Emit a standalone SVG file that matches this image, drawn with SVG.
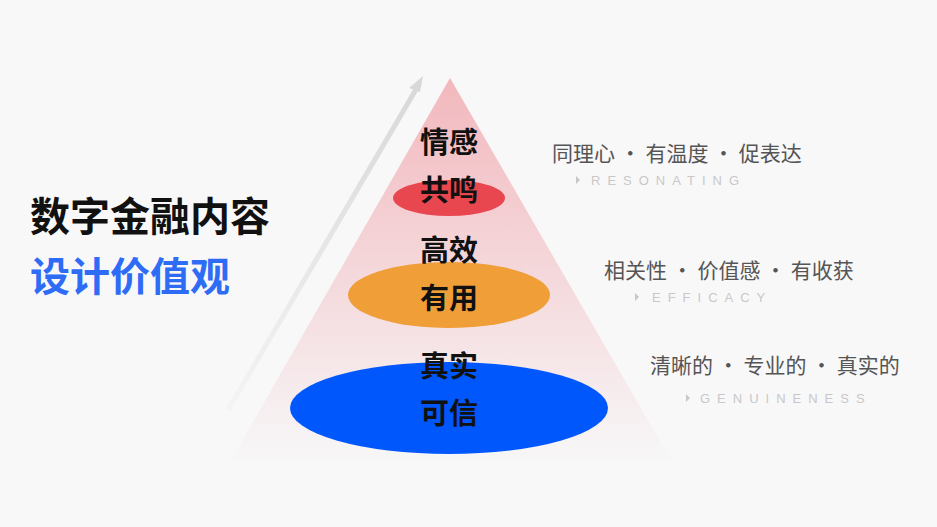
<svg xmlns="http://www.w3.org/2000/svg" width="937" height="527" viewBox="0 0 937 527">
<defs>
<linearGradient id="tri" x1="0" y1="0" x2="0" y2="1">
<stop offset="0" stop-color="#f2b8bd"/><stop offset="1" stop-color="#f7f7f8"/>
</linearGradient>
<linearGradient id="arr" x1="1" y1="0" x2="0" y2="1">
<stop offset="0" stop-color="#d8d8da"/><stop offset="1" stop-color="#f4f4f5"/>
</linearGradient>
<style>
.c{font-family:"Noto Sans CJK SC",sans-serif;font-weight:bold;fill:#111;font-size:29px;text-anchor:middle}
.d{font-family:"Noto Sans CJK SC",sans-serif;fill:#555;font-size:21px}
.e{font-family:"Liberation Sans",sans-serif;fill:#c8c8c8;font-size:13px;letter-spacing:7px}
.m{fill:#c8c8c8}
</style>
</defs>
<rect width="937" height="527" fill="#f8f8f9"/>
<g id="triangle"><polygon points="450,78 230,462 672,462" fill="url(#tri)"/></g>
<g id="connectors">
<path d="M228,410 L418,86" stroke="url(#arr)" stroke-width="5" fill="none"/>
<polygon points="423,76 409,88 420,92" fill="#d8d8da"/>
</g>
<g id="title">
<text x="30" y="231" font-family="Noto Sans CJK SC,sans-serif" font-weight="bold" font-size="40" fill="#111">数字金融内容</text>
<text x="30" y="291" font-family="Noto Sans CJK SC,sans-serif" font-weight="bold" font-size="40" fill="#2f6cf6">设计价值观</text>
</g>
<g id="level1">
<ellipse cx="449" cy="198" rx="56" ry="18" fill="#e8474f"/>
<text class="c" x="449" y="153">情感</text><text class="c" x="449" y="201">共鸣</text>
</g>
<g id="level2">
<ellipse cx="449" cy="295" rx="101" ry="33" fill="#ef9e38"/>
<text class="c" x="449" y="261">高效</text><text class="c" x="449" y="309">有用</text>
</g>
<g id="level3">
<ellipse cx="449" cy="408" rx="159" ry="46" fill="#0058fc"/>
<text class="c" x="449" y="377">真实</text><text class="c" x="449" y="424">可信</text>
</g>
<g id="desc1">
<text class="d" x="552" y="161">同理心 · 有温度 · 促表达</text>
<polygon class="m" points="576,176 576,184 580,180"/>
<text class="e" x="591" y="185">RESONATING</text>
</g>
<g id="desc2">
<text class="d" x="604" y="278">相关性 · 价值感 · 有收获</text>
<polygon class="m" points="635,293 635,301 639,297"/>
<text class="e" x="652" y="302">EFFICACY</text>
</g>
<g id="desc3">
<text class="d" x="650" y="373">清晰的 · 专业的 · 真实的</text>
<polygon class="m" points="686,394 686,402 690,398"/>
<text class="e" x="700" y="403">GENUINENESS</text>
</g>
</svg>
